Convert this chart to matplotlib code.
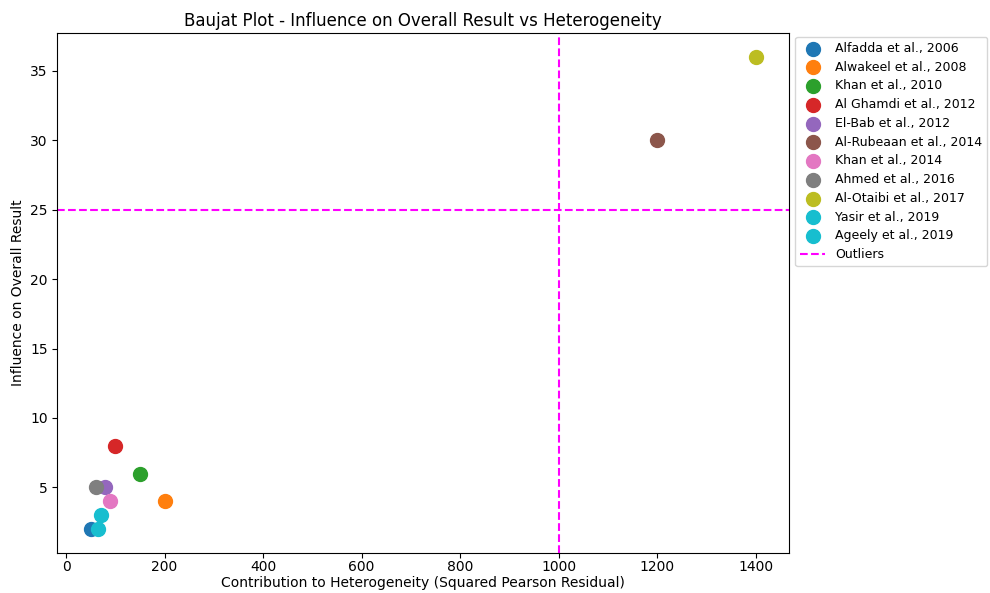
import matplotlib.pyplot as plt

# Çalışma adları ve Baujat koordinatları
studies = ['Alfadda et al., 2006', 'Alwakeel et al., 2008', 'Khan et al., 2010',
           'Al Ghamdi et al., 2012', 'El-Bab et al., 2012', 'Al-Rubeaan et al., 2014',
           'Khan et al., 2014', 'Ahmed et al., 2016', 'Al-Otaibi et al., 2017',
           'Yasir et al., 2019', 'Ageely et al., 2019']
heterogeneity = [50, 200, 150, 100, 80, 1200, 90, 60, 1400, 70, 65]
influence = [2, 4, 6, 8, 5, 30, 4, 5, 36, 3, 2]
x_cut = 1000
y_cut = 25

colors = ['tab:blue', 'tab:orange', 'tab:green', 'tab:red', 'tab:purple',
          'tab:brown', 'tab:pink', 'tab:gray', 'tab:olive', 'tab:cyan', 'tab:cyan']

fig = plt.figure(figsize=(9.9, 5.93), dpi=100)
ax = fig.add_axes([0.058, 0.068, 0.739, 0.876])

for name, x, y, c in zip(studies, heterogeneity, influence, colors):
    ax.scatter(x, y, s=100, color=c, label=name)

ax.axhline(y_cut, color='magenta', linestyle='--', label='Outliers')
ax.axvline(x_cut, color='magenta', linestyle='--')

ax.set_title('Baujat Plot - Influence on Overall Result vs Heterogeneity', pad=5)
ax.set_xlabel('Contribution to Heterogeneity (Squared Pearson Residual)', labelpad=1)
ax.set_ylabel('Influence on Overall Result')
ax.tick_params(axis='x', pad=2)
ax.legend(loc='upper left', bbox_to_anchor=(1.0, 1.005), fontsize=9,
          labelspacing=0.46)

fig.savefig('out.png')
